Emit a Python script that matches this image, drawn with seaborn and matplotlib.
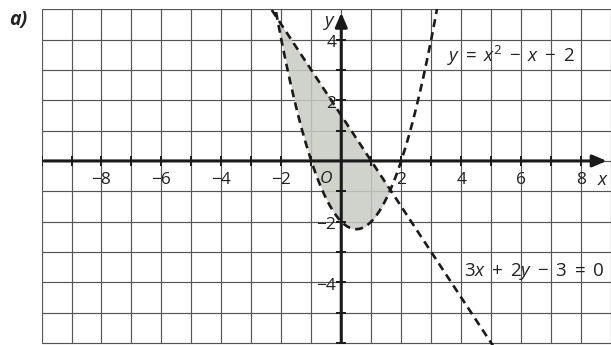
import numpy as np
import pandas as pd
import matplotlib
matplotlib.use("Agg")
import matplotlib.pyplot as plt
import seaborn as sns

# ---- data ----
x_tick_values = [-8, -6, -4, -2, 2, 4, 6, 8]
y_tick_values = [4, 2, -2, -4]
grid_x = list(range(-10, 10))
grid_y = list(range(-6, 6))
parabola_coef = [1, -1, -2]        # y = x^2 - x - 2
line_coef = [3, 2, -3]             # 3x + 2y - 3 = 0
label_parabola = r"$y\;=\;x^2\;-\;x\;-\;2$"
label_line = r"$3x\;+\;2y\;-\;3\;=\;0$"

sns.set_theme(style="white")
plt.rcParams['font.family'] = ['Open Sans', 'DejaVu Sans']
plt.rcParams['mathtext.fontset'] = 'custom'
plt.rcParams['mathtext.rm'] = 'Open Sans'
plt.rcParams['mathtext.it'] = 'Open Sans:italic'

fig = plt.figure(figsize=(6.11, 3.45), dpi=100)
ax = fig.add_axes([0.068, 0.0, 0.932, 0.973])
xmin, xmax, ymin, ymax = -10.0, 9.0, -6.07, 5.0
ax.set_xlim(xmin, xmax)
ax.set_ylim(ymin, ymax)
for s in ax.spines.values():
    s.set_visible(False)
ax.set_xticks([]); ax.set_yticks([])

# grid
for gx in grid_x:
    ax.plot([gx, gx], [-6, 5], color='#555555', lw=0.85, zorder=1)
for gy in grid_y:
    ax.plot([-10, xmax], [gy, gy], color='#555555', lw=0.85, zorder=1)

xs = np.linspace(-3, 4, 800)
pa, pb, pc = parabola_coef
yp = pa * xs**2 + pb * xs + pc
la, lb, lc = line_coef
xl = np.linspace(-3, 6, 200)
yl = -(la * xl + lc) / lb

# shaded region between curves
r = np.roots([pa, pb + la / lb, pc + lc / lb])
x1, x2 = sorted(r.real)
xf = np.linspace(x1, x2, 300)
ax.fill_between(xf, pa * xf**2 + pb * xf + pc, -(la * xf + lc) / lb,
                color='#c8cac4', alpha=0.85, lw=0, zorder=2)

df_p = pd.DataFrame({'x': xs, 'y': yp})
df_l = pd.DataFrame({'x': xl, 'y': yl})
sns.lineplot(data=df_p, x='x', y='y', ax=ax, color='#1a1a1a', lw=1.9,
             linestyle=(0, (3, 2)), sort=False, zorder=4)
sns.lineplot(data=df_l, x='x', y='y', ax=ax, color='#1a1a1a', lw=1.9,
             linestyle=(0, (3, 2)), sort=False, zorder=4)
ax.set_xlim(xmin, xmax)
ax.set_ylim(ymin, ymax)
ax.set_xlabel(''); ax.set_ylabel('')

# axes with arrows
ax.annotate('', xy=(8.95, 0), xytext=(-10, 0),
            arrowprops=dict(arrowstyle='-|>,head_length=0.7,head_width=0.3',
                            color='#1a1a1a', lw=2.2), zorder=5)
ax.annotate('', xy=(0, 4.98), xytext=(0, -6.07),
            arrowprops=dict(arrowstyle='-|>,head_length=0.7,head_width=0.3',
                            color='#1a1a1a', lw=2.2), zorder=5)
# axis tick marks
tx = [v for v in range(-10, 9) if v != 0]
ax.plot(tx, [0] * len(tx), ls='none', marker='|', ms=7, mew=1.4, color='#1a1a1a', zorder=5)
ty = [v for v in range(-6, 5) if v != 0]
ax.plot([0] * len(ty), ty, ls='none', marker='_', ms=7, mew=1.4, color='#1a1a1a', zorder=5)

fs = 12.5
for v in x_tick_values:
    ax.text(v, -0.62, f"\u2212{abs(v)}" if v < 0 else str(v), ha='center', va='center',
            fontsize=fs, color='#222', zorder=6)
for v in y_tick_values:
    ax.text(-0.17, v - 0.12, f"\u2212{abs(v)}" if v < 0 else str(v), ha='right', va='center',
            fontsize=fs, color='#222', zorder=6)
ax.text(-0.5, -0.6, 'O', ha='center', va='center', fontsize=fs, style='italic', color='#222', zorder=6)
ax.text(8.7, -0.62, 'x', ha='center', va='center', fontsize=fs + 1, style='italic', color='#222', zorder=6)
ax.text(-0.4, 4.6, 'y', ha='center', va='center', fontsize=fs + 1, style='italic', color='#222', zorder=6)

ax.text(5.65, 3.45, label_parabola, ha='center', va='center', fontsize=13.5, color='#222', zorder=6)
ax.text(6.45, -3.65, label_line, ha='center', va='center', fontsize=13.5, color='#222', zorder=6)

fig.text(0.03, 0.942, 'a)', ha='center', va='center', fontsize=14, fontweight='bold',
         style='italic', color='#222')

fig.savefig('out.png', dpi=100)
